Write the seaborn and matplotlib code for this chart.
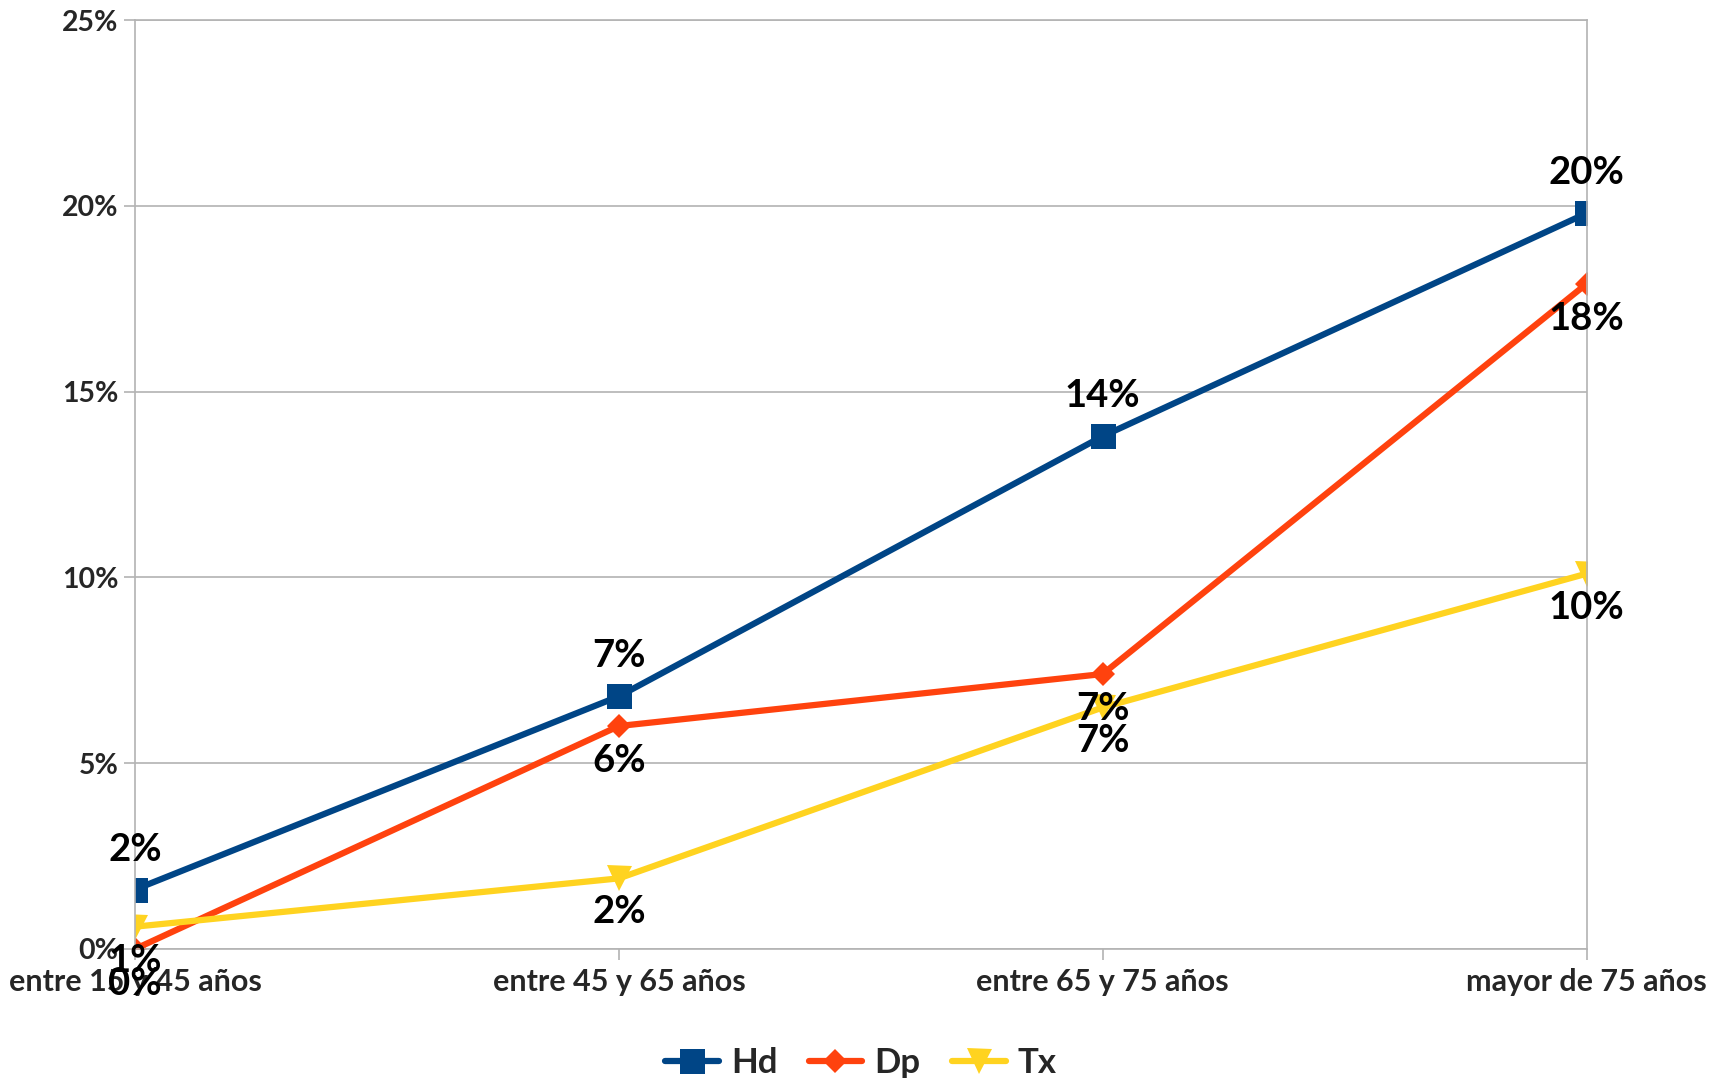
import matplotlib
matplotlib.use("Agg")
import matplotlib.pyplot as plt
import seaborn as sns
import pandas as pd
from matplotlib.ticker import FuncFormatter

categories = ["entre 15 y 45 años", "entre 45 y 65 años", "entre 65 y 75 años", "mayor de 75 años"]
hd = [1.6, 6.8, 13.8, 19.8]
dp = [0.0, 6.0, 7.4, 17.9]
tx = [0.6, 1.9, 6.5, 10.1]
series_names = ["Hd", "Dp", "Tx"]
colors = {"Hd": "#004586", "Dp": "#ff420e", "Tx": "#ffd320"}
markers = {"Hd": "s", "Dp": "D", "Tx": "v"}

rows = []
for name, vals in zip(series_names, [hd, dp, tx]):
    for i, v in enumerate(vals):
        rows.append({"pos": i, "value": v, "series": name})
df = pd.DataFrame(rows)

sns.set_theme(style="white")
plt.rcParams['font.family'] = ['Lato', 'DejaVu Sans']
plt.rcParams['font.weight'] = 'bold'

fig = plt.figure(figsize=(17.23, 10.78), dpi=100)
ax = fig.add_axes([0.0784, 0.1197, 0.8424, 0.8617])

sns.lineplot(data=df, x="pos", y="value", hue="series", style="series",
             palette=colors, markers=markers, dashes=False, linewidth=4.5,
             markersize=18, markeredgewidth=0, ax=ax, legend=True)
for line in ax.get_lines():
    if line.get_marker() == "D":
        line.set_markersize(12)

ax.set_xlim(0, 3)
ax.set_ylim(0, 25)
ax.set_xticks(range(4))
ax.set_xticklabels(categories)
ax.set_yticks([0, 5, 10, 15, 20, 25])
ax.yaxis.set_major_formatter(FuncFormatter(lambda v, p: f"{int(v)}%"))
ax.set_xlabel("")
ax.set_ylabel("")
ax.grid(axis="y", color="#b3b3b3", linewidth=1.2)
ax.grid(axis="x", visible=False)
for s in ["left", "right", "bottom", "top"]:
    ax.spines[s].set_visible(True)
    ax.spines[s].set_color("#b3b3b3")
    ax.spines[s].set_linewidth(1.2)
ax.tick_params(axis="both", which="both", direction="out", length=8, width=1.2,
               color="#b3b3b3")
ax.tick_params(axis="x", pad=6, bottom=True, labelsize=22)
ax.tick_params(axis="y", pad=4, left=True, labelsize=20.5)
for lbl in ax.get_xticklabels() + ax.get_yticklabels():
    lbl.set_fontweight("bold")

offsets = {"Hd": 40, "Dp": -35, "Tx": -34}
for name, vals in zip(series_names, [hd, dp, tx]):
    for i, v in enumerate(vals):
        ax.annotate(f"{int(v + 0.5)}%", (i, v), xytext=(0, offsets[name]),
                    textcoords="offset pixels", ha="center", va="center",
                    fontsize=27.5, fontweight="bold", color="black",
                    annotation_clip=False)

handles, labels = ax.get_legend_handles_labels()
ax.legend(handles=handles, labels=labels, loc="center", bbox_to_anchor=(0.5, -0.123),
          ncol=3, frameon=False, handlelength=1.55, columnspacing=0.9,
          handletextpad=0.35, prop={"weight": "bold", "size": 25})

fig.savefig("out.png", dpi=100)
